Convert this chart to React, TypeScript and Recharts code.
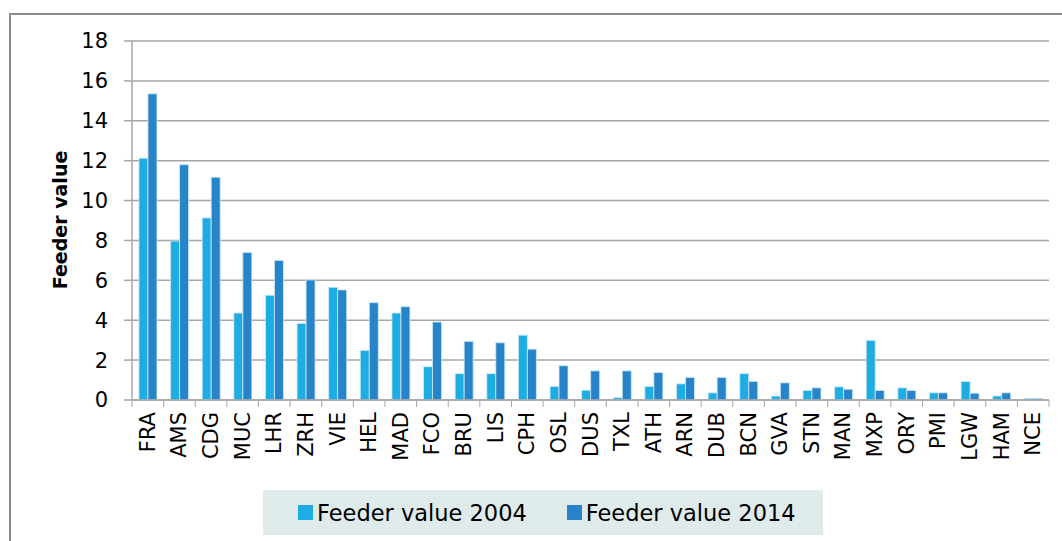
import React from 'react';
import { BarChart, Bar, XAxis, YAxis, CartesianGrid } from 'recharts';

// airports, ordered by 2014 feeder value
const airports = [
  'FRA', 'AMS', 'CDG', 'MUC', 'LHR', 'ZRH', 'VIE', 'HEL', 'MAD', 'FCO',
  'BRU', 'LIS', 'CPH', 'OSL', 'DUS', 'TXL', 'ATH', 'ARN', 'DUB', 'BCN',
  'GVA', 'STN', 'MAN', 'MXP', 'ORY', 'PMI', 'LGW', 'HAM', 'NCE',
];

const feeder2004 = [
  12.12, 7.97, 9.13, 4.36, 5.25, 3.84, 5.65, 2.49, 4.36, 1.67,
  1.32, 1.32, 3.25, 0.68, 0.49, 0.12, 0.68, 0.81, 0.36, 1.32,
  0.2, 0.48, 0.66, 2.99, 0.61, 0.36, 0.93, 0.2, 0.08,
];

const feeder2014 = [
  15.35, 11.8, 11.17, 7.39, 7.0, 6.02, 5.52, 4.88, 4.68, 3.91,
  2.94, 2.87, 2.55, 1.72, 1.46, 1.46, 1.38, 1.13, 1.13, 0.93,
  0.86, 0.61, 0.54, 0.48, 0.48, 0.36, 0.34, 0.36, 0.08,
];

const yTicks = [0, 2, 4, 6, 8, 10, 12, 14, 16, 18];

const series = [
  { key: 'v2004', name: 'Feeder value 2004', color: '#1eade3' },
  { key: 'v2014', name: 'Feeder value 2014', color: '#2784c8' },
];

const data = airports.map((code, i) => ({
  code,
  v2004: feeder2004[i],
  v2014: feeder2014[i],
}));

const FONT = '"DejaVu Sans", sans-serif';
const GRID = '#a6a6a6';

// label rotated upwards, with a tick mark on the category boundary
const AirportTick = (props: any) => {
  const { x, y, payload, index, visibleTicksCount } = props;
  const half = payload.offset || 0;
  const isLast = index === visibleTicksCount - 1;
  return (
    <g>
      <line x1={x - half} y1={y} x2={x - half} y2={y + 7} stroke={GRID} />
      {isLast && <line x1={x + half} y1={y} x2={x + half} y2={y + 7} stroke={GRID} />}
      <text
        x={x}
        y={y + 12}
        transform={`rotate(-90 ${x} ${y + 12})`}
        textAnchor="end"
        dominantBaseline="central"
        fontFamily={FONT}
        fontSize={21}
        fill="#000"
      >
        {payload.value}
      </text>
    </g>
  );
};

const App = () => {
  return (
    <div style={{ position: 'absolute', left: 0, top: 0, width: 1062, height: 541, background: '#fff', overflow: 'hidden' }}>
      <div
        style={{
          position: 'absolute',
          left: 9,
          top: 13,
          width: 1070,
          height: 560,
          borderLeft: '2px solid #8c8c8c',
          borderTop: '2px solid #8c8c8c',
        }}
      />
      <div style={{ position: 'absolute', left: 0, top: 0 }}>
        <BarChart
          width={1062}
          height={541}
          data={data}
          margin={{ top: 41, right: 13, bottom: 51, left: 52 }}
          barCategoryGap="22%"
          barGap={0}
        >
          <CartesianGrid vertical={false} stroke={GRID} strokeWidth={1.5} />
          <XAxis
            dataKey="code"
            interval={0}
            height={90}
            tickLine={false}
            tickSize={0}
            tickMargin={0}
            axisLine={{ stroke: GRID, strokeWidth: 1.5 }}
            tick={<AirportTick />}
          />
          <YAxis
            width={80}
            domain={[0, 18]}
            ticks={yTicks}
            interval={0}
            tickSize={8}
            tickMargin={16}
            axisLine={{ stroke: GRID, strokeWidth: 1.5 }}
            tickLine={{ stroke: GRID, strokeWidth: 1.5 }}
            tick={{ fill: '#000', fontSize: 21, fontFamily: FONT }}
          />
          {series.map((s) => (
            <Bar
              key={s.key}
              dataKey={s.key}
              name={s.name}
              fill={s.color}
              stroke="#cfe9f6"
              strokeWidth={0.8}
              isAnimationActive={false}
            />
          ))}
        </BarChart>
      </div>
      <div
        style={{
          position: 'absolute',
          left: 60,
          top: 220,
          transform: 'translate(-50%, -50%) rotate(-90deg)',
          fontFamily: FONT,
          fontWeight: 'bold',
          fontSize: 19,
          whiteSpace: 'nowrap',
          color: '#000',
        }}
      >
        Feeder value
      </div>
      <div
        style={{
          position: 'absolute',
          left: 263,
          top: 490,
          width: 560,
          height: 45,
          background: '#dfebeb',
          display: 'flex',
          alignItems: 'center',
          fontFamily: FONT,
          fontSize: 22.5,
          color: '#000',
        }}
      >
        {series.map((s, i) => (
          <div key={s.key} style={{ display: 'flex', alignItems: 'center', marginLeft: i === 0 ? 35 : 40 }}>
            <span style={{ display: 'inline-block', width: 15, height: 15, background: s.color, marginRight: 4 }} />
            <span>{s.name}</span>
          </div>
        ))}
      </div>
    </div>
  );
};

export default App;
